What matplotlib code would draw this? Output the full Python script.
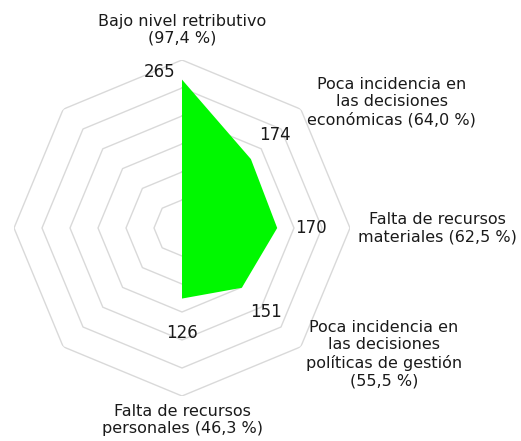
import numpy as np
import matplotlib
matplotlib.use("Agg")
import matplotlib.pyplot as plt

# Datos
categorias = [
    "Bajo nivel retributivo\n(97,4 %)",
    "Poca incidencia en\nlas decisiones\neconómicas (64,0 %)",
    "Falta de recursos\nmateriales (62,5 %)",
    "Poca incidencia en\nlas decisiones\npolíticas de gestión\n(55,5 %)",
    "Falta de recursos\npersonales (46,3 %)",
    "", "", "",
]
valores = [265, 174, 170, 151, 126, 0, 0, 0]
anillos = [50, 100, 150, 200, 250, 300]

VERDE, GRIS_GRID, TEXTO = "#00f800", "#d9d9d9", "#1a1a1a"
FS = 11.5

n = len(valores)
theta = np.arange(n) * 2 * np.pi / n

fig = plt.figure(figsize=(5.21, 4.41), dpi=100)
ax = fig.add_axes([14 / 521, 1 - 396 / 441, 336 / 521, 336 / 441], projection="polar")
ax.set_theta_zero_location("N")
ax.set_theta_direction(-1)
ax.set_ylim(0, 300)
ax.grid(False)
ax.spines["polar"].set_visible(False)
ax.set_xticks([])
ax.set_yticks([])

# rejilla octogonal
t_cerrado = np.append(theta, theta[0])
for r in anillos:
    ax.plot(t_cerrado, [r] * (n + 1), color=GRIS_GRID, linewidth=1, zorder=1)

# área
v_cerrado = np.append(valores, valores[0])
ax.fill(t_cerrado, v_cerrado, color=VERDE, zorder=2, linewidth=0)

# etiquetas de valor (desplazadas hacia fuera)
for t, v in zip(theta, valores):
    if v == 0:
        continue
    if t == 0:
        dx, dy = -22, 8
    else:
        dx, dy = 34 * np.sin(t), 34 * np.cos(t)
    ax.annotate(str(v), xy=(t, v), xytext=(dx, dy), textcoords="offset pixels",
                ha="center", va="center", fontsize=12, color=TEXTO,
                annotation_clip=False)

# etiquetas de categoría
pos_cat = [(0, 354), (np.radians(59), 437), (np.radians(90), 457),
           (np.radians(122), 425), (np.radians(180), 343)]
for (t, r), txt in zip(pos_cat, categorias):
    ax.text(t, r, txt, ha="center", va="center", fontsize=FS, color=TEXTO,
            linespacing=1.2, clip_on=False)

fig.savefig("out.png", dpi=100)
